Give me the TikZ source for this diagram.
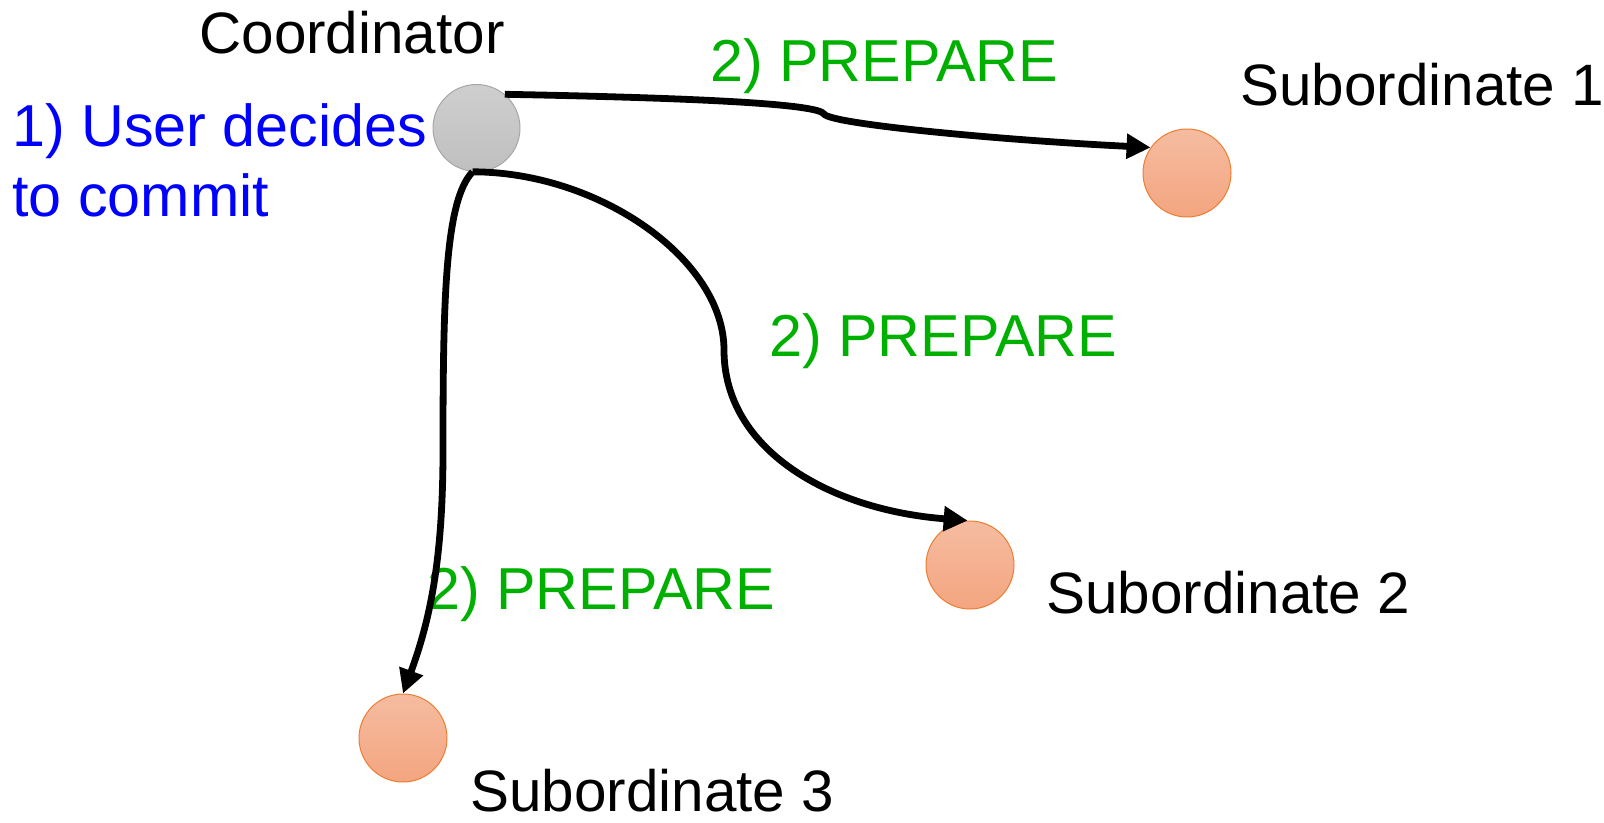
\documentclass[tikz,border=0pt]{standalone}
\usepackage{xcolor}
\usepackage{fontspec}
\setmainfont{Liberation Sans}
\usetikzlibrary{arrows.meta}
\definecolor{stepgreen}{RGB}{0,176,0}
\definecolor{subfill}{RGB}{245,188,160}
\definecolor{subfillb}{RGB}{244,165,128}
\definecolor{subedge}{RGB}{237,125,49}
\begin{document}
\begin{tikzpicture}[x=0.5pt,y=-0.5pt,
	lbl/.style={inner sep=0pt,anchor=base west,font=\fontsize{29.2}{35}\selectfont},
	steplbl/.style={lbl,font=\fontsize{29.6}{35}\selectfont},
	coordball/.style={circle,inner sep=0pt,minimum size=43.5pt,draw=gray!70,line width=0.5pt,top color=gray!38,bottom color=gray!50},
	subball/.style={circle,inner sep=0pt,minimum size=44pt,draw=subedge,line width=0.5pt,top color=subfill,bottom color=subfillb},
	msg/.style={line width=3.4pt,-{Triangle[length=12pt,width=12pt]}}]
					\useasboundingbox (0,0) rectangle (1604,823);
					\node[coordball] (coord) at (476.5,128) {};
					\node[subball] (sub1) at (1187,173) {};
					\node[subball] (sub2) at (970,565) {};
					\node[subball] (sub3) at (403,738) {};
					\node[lbl] (coordname) at (199,54) {Coordinator};
					\node[lbl] (sub1name) at (1240,106) {Subordinate 1};
					\node[lbl] (sub2name) at (1046,613) {Subordinate 2};
					\node[lbl] (sub3name) at (470,811) {Subordinate 3};
					\node[steplbl,blue] (decide1) at (12,147) {1) User decides};
					\node[steplbl,blue] (decide2) at (12,217) {to commit};
					\node[steplbl,stepgreen] (prep1) at (710,82) {2) PREPARE};
					\node[steplbl,stepgreen] (prep2) at (769,357) {2) PREPARE};
					\node[steplbl,stepgreen] (prep3) at (427,609) {2) PREPARE};
					\draw[msg] (coord.50) .. controls (700,98) and (818,104) .. (824,114) .. controls (830,124) and (1000,140) .. (sub1.145);
					\draw[msg] (coord.-95) .. controls (600,172) and (724,260) .. (724,350) .. controls (724,450) and (830,510) .. (sub2.93);
					\draw[msg] (coord.-95) .. controls (445,200) and (443,300) .. (443,450) .. controls (443,560) and (430,620) .. (sub3.north);
				\end{tikzpicture}
\end{document}
